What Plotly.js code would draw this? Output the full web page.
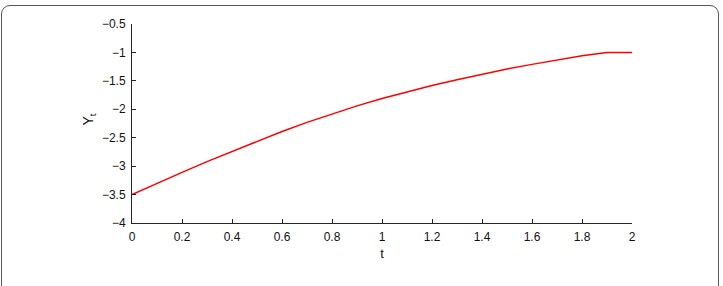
<!DOCTYPE html>
<html>
<head>
<meta charset="utf-8">
<script src="https://cdn.plot.ly/plotly-3.0.1.min.js"></script>
<style>
html,body{margin:0;padding:0;background:#fff;width:723px;height:286px;overflow:hidden;}
#frame{position:absolute;left:1px;top:5px;width:718px;height:300px;border:1.5px solid #555;border-radius:9px;box-sizing:border-box;}
#chart{position:absolute;left:0;top:0;width:723px;height:286px;}
</style>
</head>
<body>
<div id="frame"></div>
<div id="chart"></div>
<script>
// Data
const tValues = [0, 0.1, 0.2, 0.3, 0.4, 0.5, 0.6, 0.7, 0.8, 0.9, 1.0, 1.1, 1.2, 1.3, 1.4, 1.5, 1.6, 1.7, 1.8, 1.9, 2.0];
const yValues = [-3.50, -3.30, -3.11, -2.92, -2.74, -2.56, -2.39, -2.23, -2.08, -1.94, -1.81, -1.69, -1.58, -1.48, -1.38, -1.29, -1.21, -1.13, -1.06, -1.00, -1.00];
const xTitle = 't';
const yTitle = 'Y<sub>t</sub>';
const captionText = '<b>Figure 1 The function Y<sub>t</sub></b>';

const trace = {
  x: tValues, y: yValues, type: 'scatter', mode: 'lines',
  line: {color: '#ff0000', width: 1.5, shape: 'linear'},
  hoverinfo: 'skip'
};

const axisCommon = {
  showgrid: false, zeroline: false, showline: true,
  linecolor: '#262626', linewidth: 1,
  ticks: 'inside', ticklen: 4, tickwidth: 1, tickcolor: '#262626',
  tickfont: {family: 'Liberation Sans, Arial, sans-serif', size: 12, color: '#111'},
  ticklabelstandoff: 3,
  mirror: false
};

const layout = {
  width: 723, height: 286,
  margin: {l: 132, r: 91, t: 23.5, b: 62.5},
  paper_bgcolor: 'rgba(0,0,0,0)', plot_bgcolor: 'rgba(0,0,0,0)',
  showlegend: false,
  font: {family: 'Liberation Sans, Arial, sans-serif', size: 12, color: '#111'},
  xaxis: Object.assign({}, axisCommon, {
    range: [0, 2], tickmode: 'linear', tick0: 0, dtick: 0.2,
    title: {text: xTitle, font: {size: 13}, standoff: 5}
  }),
  yaxis: Object.assign({}, axisCommon, {
    range: [-4, -0.5], tickmode: 'linear', tick0: -4, dtick: 0.5
  }),
  annotations: [{
    text: yTitle, xref: 'paper', yref: 'paper',
    x: -0.086, y: 0.52, xanchor: 'center', yanchor: 'middle', textangle: -90,
    showarrow: false, font: {size: 14, color: '#111'}
  }, {
    text: captionText, xref: 'paper', yref: 'paper',
    x: -0.24, y: -0.3, xanchor: 'left', yanchor: 'top',
    showarrow: false, font: {size: 13, color: '#222'}
  }]
};

Plotly.newPlot('chart', [trace], layout, {staticPlot: true, displayModeBar: false});
</script>
</body>
</html>
